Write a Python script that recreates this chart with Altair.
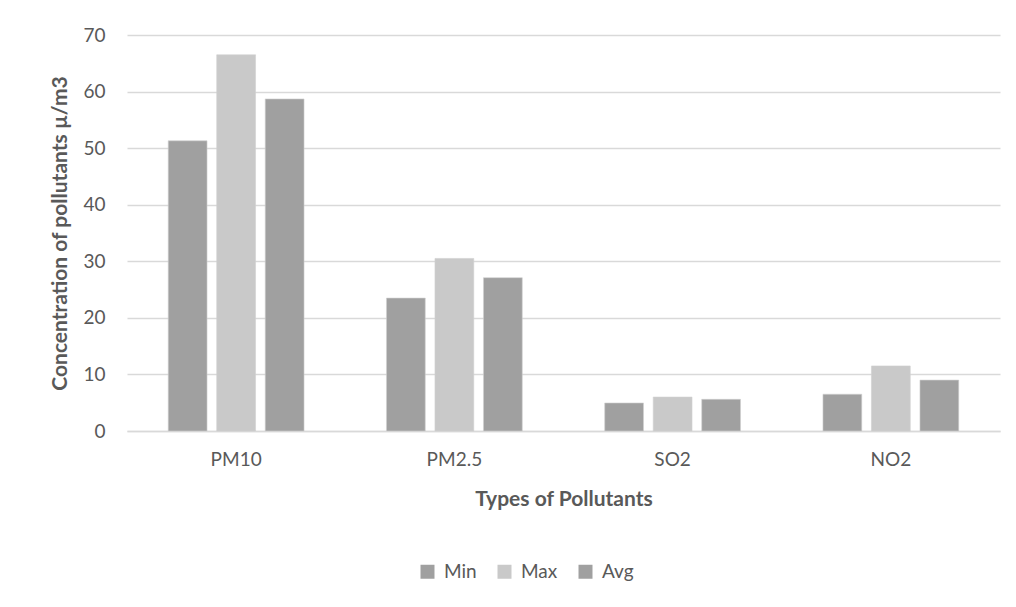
import altair as alt
import pandas as pd

pollutants = ["PM10", "PM2.5", "SO2", "NO2"]
series = ["Min", "Max", "Avg"]
min_vals = [51.3, 23.5, 4.95, 6.5]
max_vals = [66.5, 30.5, 6.0, 11.5]
avg_vals = [58.7, 27.1, 5.6, 9.0]
y_ticks = [0, 10, 20, 30, 40, 50, 60, 70]
colors = ["#A0A0A0", "#C9C9C9", "#A0A0A0"]

rows = []
for name, vals in zip(series, [min_vals, max_vals, avg_vals]):
    for p, v in zip(pollutants, vals):
        rows.append({"Pollutant": p, "Series": name, "Value": v})
df = pd.DataFrame(rows)

FONT = "Lato"
TXT = "#595959"

bars = alt.Chart(df).mark_bar(stroke="#D0D0D0", strokeWidth=0.6).encode(
    x=alt.X("Pollutant:N", sort=pollutants,
            scale=alt.Scale(paddingInner=0.3333, paddingOuter=0.1667),
            axis=alt.Axis(title="Types of Pollutants", labelAngle=0, ticks=False, grid=False,
                          domain=True, domainColor="#D9D9D9", domainWidth=1.3,
                          labelPadding=19, labelFontSize=19, labelColor=TXT, labelFont=FONT,
                          titleFontSize=21, titleFontWeight="bold", titleColor=TXT,
                          titleFont=FONT, titlePadding=19)),
    xOffset=alt.XOffset("Series:N", sort=series,
                        scale=alt.Scale(paddingInner=0.2, paddingOuter=0.1)),
    y=alt.Y("Value:Q", scale=alt.Scale(domain=[0, 70], nice=False),
            axis=alt.Axis(title="Concentration of pollutants  µ/m3", values=y_ticks,
                          ticks=False, domain=False, grid=True, gridColor="#D9D9D9",
                          gridWidth=1.3, labelPadding=22, labelFontSize=19, labelColor=TXT,
                          labelFont=FONT, titleFontSize=21, titleFontWeight="bold",
                          titleColor=TXT, titleFont=FONT, titlePadding=12)),
    color=alt.Color("Series:N", sort=series,
                    scale=alt.Scale(domain=series, range=colors),
                    legend=alt.Legend(title=None, orient="none", direction="horizontal",
                                      legendX=291, legendY=527, symbolType="square",
                                      symbolSize=196, symbolStrokeWidth=0,
                                      labelFontSize=19, labelColor=TXT, labelFont=FONT,
                                      labelOffset=7, columnPadding=18, padding=0)),
)

one = pd.DataFrame({"a": [0]})
top_line = alt.Chart(one).mark_rule(color="#D9D9D9", strokeWidth=1).encode(
    x=alt.value(-122), x2=alt.value(900), y=alt.value(-29))
left_line = alt.Chart(one).mark_rule(color="#D9D9D9", strokeWidth=1).encode(
    x=alt.value(-122), y=alt.value(-29), y2=alt.value(650))

chart = alt.layer(top_line, left_line, bars).properties(
    width=873, height=396,
    background="white",
    autosize=alt.AutoSizeParams(type="none"),
    padding={"left": 119, "top": 27, "right": 6, "bottom": 160},
).configure_view(stroke="transparent", strokeWidth=0)

chart.save("out.html", embed_options={"renderer": "svg", "actions": False})
